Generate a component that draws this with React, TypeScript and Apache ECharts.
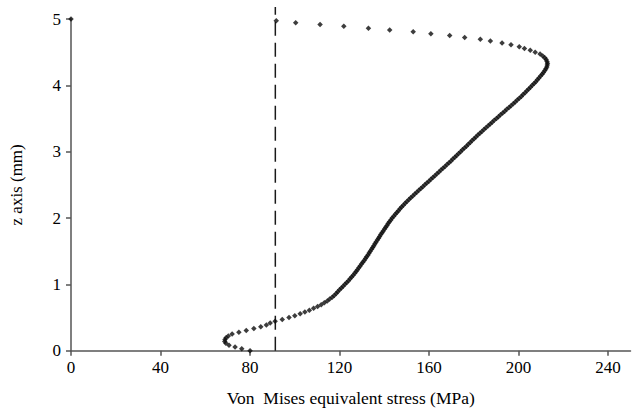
import React, { useEffect, useRef } from "react";
import * as echarts from "echarts";

const xTickValues = [0, 40, 80, 120, 160, 200, 240];
const yTickValues = [0, 1, 2, 3, 4, 5];

const zValues = [
  0, 0.028, 0.056, 0.083, 0.111, 0.139, 0.167, 0.194, 0.222, 0.25, 0.278, 0.306, 0.333, 0.361, 0.389, 0.417, 0.444, 0.472,
  0.5, 0.528, 0.556, 0.583, 0.611, 0.639, 0.667, 0.694, 0.722, 0.75, 0.778, 0.806, 0.833, 0.861, 0.889, 0.917, 0.944, 0.972,
  1, 1.028, 1.056, 1.083, 1.111, 1.139, 1.167, 1.194, 1.222, 1.25, 1.278, 1.306, 1.333, 1.361, 1.389, 1.417, 1.444, 1.472,
  1.5, 1.528, 1.556, 1.583, 1.611, 1.639, 1.667, 1.694, 1.722, 1.75, 1.778, 1.806, 1.833, 1.861, 1.889, 1.917, 1.944, 1.972,
  2, 2.028, 2.056, 2.083, 2.111, 2.139, 2.167, 2.194, 2.222, 2.25, 2.278, 2.306, 2.333, 2.361, 2.389, 2.417, 2.444, 2.472,
  2.5, 2.528, 2.556, 2.583, 2.611, 2.639, 2.667, 2.694, 2.722, 2.75, 2.778, 2.806, 2.833, 2.861, 2.889, 2.917, 2.944, 2.972,
  3, 3.028, 3.056, 3.083, 3.111, 3.139, 3.167, 3.194, 3.222, 3.25, 3.278, 3.306, 3.333, 3.361, 3.389, 3.417, 3.444, 3.472,
  3.5, 3.528, 3.556, 3.583, 3.611, 3.639, 3.667, 3.694, 3.722, 3.75, 3.778, 3.806, 3.833, 3.861, 3.889, 3.917, 3.944, 3.972,
  4, 4.028, 4.056, 4.083, 4.111, 4.139, 4.167, 4.194, 4.222, 4.25, 4.278, 4.306, 4.333, 4.361, 4.389, 4.417, 4.444, 4.472,
  4.5, 4.528, 4.556, 4.583, 4.611, 4.639, 4.667, 4.694, 4.722, 4.75, 4.778, 4.806, 4.833, 4.861, 4.889, 4.917, 4.944, 4.972,
  5,
];

const stressValues = [
  80.0, 76.3, 73.3, 70.6, 69.2, 68.7, 68.8, 69.3, 70.3, 72.0,
  75.0, 78.3, 81.7, 84.8, 87.3, 89.0, 91.2, 94.4, 97.4, 100.0,
  102.4, 104.5, 106.5, 108.4, 110.2, 111.8, 113.2, 114.5, 115.6, 116.7,
  117.6, 118.5, 119.2, 120.0, 120.8, 121.6, 122.4, 123.2, 124.0, 124.7,
  125.4, 126.1, 126.8, 127.4, 128.0, 128.6, 129.2, 129.8, 130.4, 131.0,
  131.6, 132.1, 132.7, 133.2, 133.7, 134.3, 134.8, 135.3, 135.8, 136.3,
  136.9, 137.4, 137.9, 138.4, 139.0, 139.5, 140.1, 140.6, 141.2, 141.7,
  142.3, 142.9, 143.5, 144.2, 144.9, 145.6, 146.3, 147.0, 147.7, 148.5,
  149.3, 150.1, 151.0, 151.8, 152.7, 153.6, 154.5, 155.4, 156.3, 157.2,
  158.1, 159.0, 159.9, 160.8, 161.7, 162.6, 163.5, 164.4, 165.3, 166.2,
  167.1, 168.0, 168.9, 169.8, 170.6, 171.5, 172.3, 173.2, 174.1, 174.9,
  175.8, 176.7, 177.5, 178.4, 179.2, 180.1, 180.9, 181.8, 182.7, 183.6,
  184.5, 185.4, 186.4, 187.3, 188.2, 189.1, 190.1, 191.0, 191.9, 192.9,
  193.8, 194.7, 195.7, 196.6, 197.6, 198.5, 199.4, 200.3, 201.2, 202.0,
  202.9, 203.7, 204.5, 205.3, 206.1, 206.9, 207.7, 208.4, 209.1, 209.8,
  210.5, 211.1, 211.7, 212.2, 212.6, 212.8, 212.9, 212.7, 212.3, 211.7,
  210.8, 209.6, 207.4, 205.2, 202.6, 200.3, 196.6, 192.6, 187.4, 182.9,
  175.9, 169.2, 160.8, 152.9, 142.4, 132.9, 121.9, 111.3, 100.4, 91.7,
  0,
];

// Reference (dashed) line: stress value and its vertical extent
const refStress = 91.3;
const refZ = [0, 5.18];

const xAxisName = "Von  Mises equivalent stress (MPa)";
const yAxisName = "z axis (mm)";

export default function App() {
  const ref = useRef<HTMLDivElement>(null);
  useEffect(() => {
    if (!ref.current) return;
    const chart = echarts.init(ref.current, undefined, { renderer: "svg" });
    const font = "'Liberation Serif', 'Times New Roman', serif";
    const axisColor = "#555555";
    const points = stressValues.map((s, i) => [s, zValues[i]]);
    chart.setOption({
      animation: false,
      backgroundColor: "#ffffff",
      grid: { left: 69, top: 19, right: 4.5, bottom: 61.3, containLabel: false },
      xAxis: {
        type: "value",
        min: 0,
        max: 250,
        interval: 40,
        name: xAxisName,
        nameLocation: "middle",
        nameGap: 38,
        nameTextStyle: { fontFamily: font, fontSize: 17.5, color: "#000" },
        axisLine: { show: true, onZero: false, lineStyle: { color: axisColor, width: 1.5 } },
        axisTick: { show: true, inside: false, length: 5, customValues: xTickValues, lineStyle: { color: axisColor, width: 1.5 } },
        axisLabel: { customValues: xTickValues, fontFamily: font, fontSize: 17, color: "#000", margin: 8 },
        splitLine: { show: false },
      },
      yAxis: {
        type: "value",
        min: 0,
        max: 5,
        interval: 1,
        name: yAxisName,
        nameLocation: "middle",
        nameGap: 46,
        nameRotate: 90,
        nameTextStyle: { fontFamily: font, fontSize: 17, color: "#000" },
        axisLine: { show: true, onZero: false, lineStyle: { color: axisColor, width: 1.5 } },
        axisTick: { show: true, inside: false, length: 5, customValues: yTickValues, lineStyle: { color: axisColor, width: 1.5 } },
        axisLabel: { customValues: yTickValues, fontFamily: font, fontSize: 17, color: "#000", margin: 10 },
        splitLine: { show: false },
      },
      series: [
        {
          type: "line",
          data: refZ.map((z) => [refStress, z]),
          showSymbol: false,
          symbol: "none",
          clip: false,
          lineStyle: { color: "#1a1a1a", width: 1.5, type: [14, 7] },
          silent: true,
          z: 1,
        },
        {
          type: "scatter",
          data: points,
          symbol: "diamond",
          symbolSize: 5.5,
          clip: false,
          itemStyle: { color: "#0d0d0d" },
          z: 2,
        },
      ],
    });
    return () => chart.dispose();
  }, []);
  return (
    <div
      ref={ref}
      style={{ position: "fixed", left: 0, top: 0, width: 635, height: 412, background: "#fff" }}
    />
  );
}
